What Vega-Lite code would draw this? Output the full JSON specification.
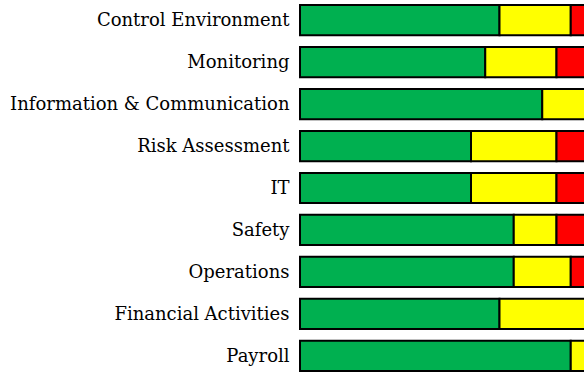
{
  "$schema": "https://vega.github.io/schema/vega-lite/v6.json",
  "autosize": {"type": "none"},
  "padding": {"left": 300, "top": 0, "right": 0, "bottom": 0},
  "width": 285,
  "height": 376,
  "background": "white",
  "config": {"view": {"stroke": null}},
  "data": {
    "values": [
      {"cat": "Control Environment", "status": "Green", "ord": 1, "v": 14},
      {"cat": "Control Environment", "status": "Yellow", "ord": 2, "v": 5},
      {"cat": "Control Environment", "status": "Red", "ord": 3, "v": 1},
      {"cat": "Monitoring", "status": "Green", "ord": 1, "v": 13},
      {"cat": "Monitoring", "status": "Yellow", "ord": 2, "v": 5},
      {"cat": "Monitoring", "status": "Red", "ord": 3, "v": 2},
      {"cat": "Information & Communication", "status": "Green", "ord": 1, "v": 17},
      {"cat": "Information & Communication", "status": "Yellow", "ord": 2, "v": 3},
      {"cat": "Risk Assessment", "status": "Green", "ord": 1, "v": 12},
      {"cat": "Risk Assessment", "status": "Yellow", "ord": 2, "v": 6},
      {"cat": "Risk Assessment", "status": "Red", "ord": 3, "v": 2},
      {"cat": "IT", "status": "Green", "ord": 1, "v": 12},
      {"cat": "IT", "status": "Yellow", "ord": 2, "v": 6},
      {"cat": "IT", "status": "Red", "ord": 3, "v": 2},
      {"cat": "Safety", "status": "Green", "ord": 1, "v": 15},
      {"cat": "Safety", "status": "Yellow", "ord": 2, "v": 3},
      {"cat": "Safety", "status": "Red", "ord": 3, "v": 2},
      {"cat": "Operations", "status": "Green", "ord": 1, "v": 15},
      {"cat": "Operations", "status": "Yellow", "ord": 2, "v": 4},
      {"cat": "Operations", "status": "Red", "ord": 3, "v": 1},
      {"cat": "Financial Activities", "status": "Green", "ord": 1, "v": 14},
      {"cat": "Financial Activities", "status": "Yellow", "ord": 2, "v": 6},
      {"cat": "Payroll", "status": "Green", "ord": 1, "v": 19},
      {"cat": "Payroll", "status": "Yellow", "ord": 2, "v": 1}
    ]
  },
  "mark": {"type": "bar", "stroke": "black", "strokeWidth": 2},
  "encoding": {
    "y": {
      "field": "cat",
      "type": "nominal",
      "sort": null,
      "scale": {"paddingInner": 0.28, "paddingOuter": 0.12},
      "axis": {
        "title": null,
        "domain": false,
        "ticks": false,
        "labelPadding": 11,
        "labelFont": "DejaVu Serif",
        "labelFontSize": 18,
        "labelColor": "black",
        "labelLimit": 400,
        "labelOffset": 1
      }
    },
    "x": {
      "field": "v",
      "type": "quantitative",
      "stack": "zero",
      "scale": {"domain": [0, 20], "nice": false},
      "axis": null
    },
    "color": {
      "field": "status",
      "type": "nominal",
      "scale": {"domain": ["Green", "Yellow", "Red"], "range": ["#00B050", "#FFFF00", "#FF0000"]},
      "legend": null
    },
    "order": {"field": "ord", "type": "quantitative"}
  }
}
